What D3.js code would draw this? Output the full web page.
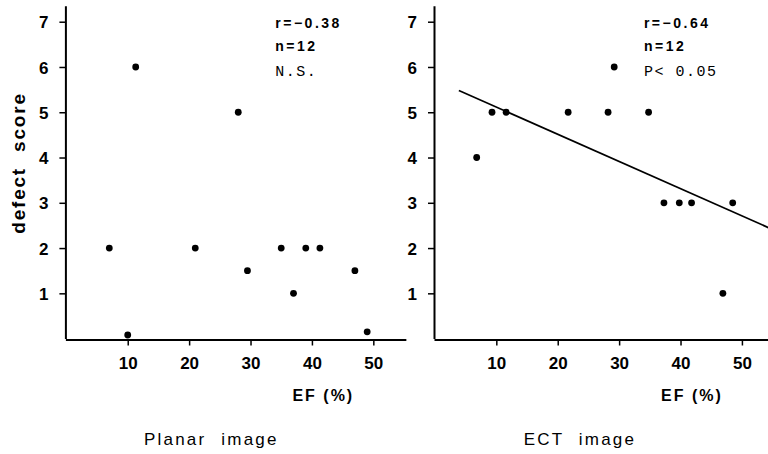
<!DOCTYPE html>
<html>
<head>
<meta charset="utf-8">
<script src="https://cdn.jsdelivr.net/npm/d3@7"></script>
<style>
  body { margin: 0; background: #fff; }
  svg { display: block; }
  .tick text { font-family: "Liberation Sans", Arial, sans-serif; font-size: 17px; font-weight: bold; fill: #000; }
  .stat { font-family: "Liberation Sans", Arial, sans-serif; font-size: 14px; font-weight: bold; letter-spacing: 2.5px; }
  .mono { font-family: "Liberation Mono", "Courier New", monospace; font-size: 15px; letter-spacing: 1.5px; }
  .label { font-family: "Liberation Sans", Arial, sans-serif; font-size: 17px; }
</style>
</head>
<body>
<svg id="chart" width="768" height="454"></svg>
<script>
// planar image
let planarEF = [7, 10, 11.3, 21, 28, 29.5, 35, 37, 39, 41.3, 47, 49];
let planarScore = [2, 0.08, 6, 2, 5, 1.5, 2, 1, 2, 2, 1.5, 0.15];

// ECT image
let ectEF = [6.8, 9.3, 11.6, 21.7, 28.2, 29.2, 34.8, 37.3, 39.8, 41.8, 46.9, 48.5];
let ectScore = [4, 5, 5, 5, 5, 6, 5, 3, 3, 3, 1, 3];

// regression line ends (ECT)
let fitEF = [3.9, 56];
let fitScore = [5.48, 2.35];

let xTicks = [10, 20, 30, 40, 50];
let yTicks = [1, 2, 3, 4, 5, 6, 7];

let planarStats = ["r=−0.38", "n=12", "N.S."];
let ectStats = ["r=−0.64", "n=12", "P< 0.05"];

let svg = d3.select("#chart");

let y = d3.scaleLinear()
  .domain([0, 7.35])
  .range([338.6, 338.6 - 7.35 * 45.27]);

function panel(left, efs, scores, stats, title, fit) {
  let x = d3.scaleLinear()
    .domain([-0.15, 55.3])
    .range([left, left + 55.45 * 6.14]);

  let g = svg.append("g");

  // x axis
  let xa = g.append("g")
    .attr("transform", "translate(0,339.5)")
    .call(d3.axisBottom(x).tickValues(xTicks).tickSize(6).tickSizeOuter(0).tickPadding(11));
  xa.select(".domain").attr("stroke-width", 2);
  xa.selectAll(".tick line").attr("stroke-width", 1.5);

  // y axis
  let ya = g.append("g")
    .attr("transform", "translate(" + x(-0.15) + ",0)")
    .call(d3.axisLeft(y).tickValues(yTicks).tickSize(6).tickSizeOuter(0).tickPadding(11));
  ya.select(".domain").attr("stroke-width", 2);
  ya.selectAll(".tick line").attr("stroke-width", 1.5);
  ya.selectAll(".tick text").attr("dy", "0.36em");

  if (fit) {
    g.append("line")
      .attr("x1", x(fit[0][0])).attr("y1", y(fit[1][0]))
      .attr("x2", x(fit[0][1])).attr("y2", y(fit[1][1]))
      .attr("stroke", "#000")
      .attr("stroke-width", 1.7);
  }

  g.selectAll("circle")
    .data(efs)
    .enter()
    .append("circle")
    .attr("cx", d => x(d))
    .attr("cy", (d, i) => y(scores[i]))
    .attr("r", 3.4)
    .attr("fill", "#000");

  let sx = x(0) + 209;
  g.append("text").attr("class", "stat").attr("x", sx).attr("y", 28).text(stats[0]);
  g.append("text").attr("class", "stat").attr("x", sx).attr("y", 51).text(stats[1]);
  g.append("text").attr("class", "mono").attr("x", sx).attr("y", 76).text(stats[2]);

  g.append("text")
    .attr("class", "label")
    .attr("x", x(0) + 257)
    .attr("y", 401)
    .attr("text-anchor", "middle")
    .style("font-weight", "bold")
    .style("font-size", "16px")
    .style("letter-spacing", "2px")
    .text("EF (%)");

  g.append("text")
    .attr("class", "label")
    .attr("x", x(0) + 145)
    .attr("y", 445)
    .attr("text-anchor", "middle")
    .style("letter-spacing", "2.2px")
    .style("word-spacing", "8px")
    .text(title);
}

panel(65.4, planarEF, planarScore, planarStats, "Planar image", null);
panel(434, ectEF, ectScore, ectStats, "ECT image", [fitEF, fitScore]);

svg.append("text")
  .attr("class", "label")
  .attr("transform", "translate(25,163) rotate(-90)")
  .attr("text-anchor", "middle")
  .style("font-weight", "bold")
  .style("font-size", "19px")
  .style("letter-spacing", "1.8px")
  .style("word-spacing", "8px")
  .text("defect score");
</script>
</body>
</html>
